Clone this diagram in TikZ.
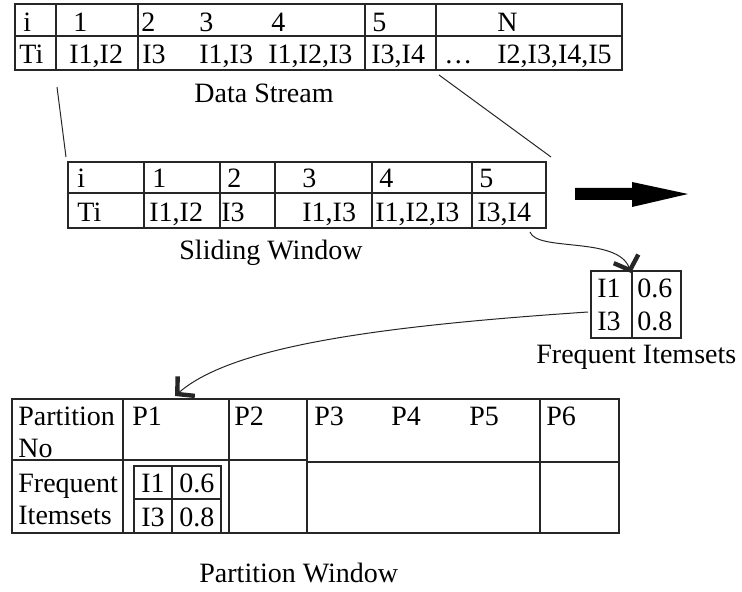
\documentclass[tikz,border=0pt]{standalone}
\usepackage{fontspec}
\setmainfont{Liberation Serif}
\usetikzlibrary{arrows.meta,fit}
\begin{document}
\begin{tikzpicture}[x=0.5pt,y=-0.5pt,
  gridline/.style={draw=black!85, line width=0.7pt},
  tblbox/.style={draw=black!85, line width=0.7pt, inner sep=0pt},
  txt/.style={anchor=base west, inner sep=0pt, font=\fontsize{14}{16}\selectfont},
  link/.style={draw=black!85, line width=0.5pt},
  barb/.style={-{Straight Barb[length=6pt,width=13pt,line width=2.2pt]}}]
\useasboundingbox (0,0) rectangle (742,592);

% ---------- Data Stream ----------
\coordinate (ds-nw) at (15,4);
\coordinate (ds-se) at (622,70);
\node[tblbox, fit=(ds-nw)(ds-se)] (ds) {};
\draw[gridline] (15,36) -- (622,36);
\foreach \x in {56,138,365,436} \draw[gridline] (\x,4) -- (\x,70);
\node[txt] (ds-h0) at (23,32) {i};
\node[txt] (ds-h1) at (73,32) {1};
\node[txt] (ds-h2) at (141,32) {2};
\node[txt] (ds-h3) at (199,32) {3};
\node[txt] (ds-h4) at (271,32) {4};
\node[txt] (ds-h5) at (372,32) {5};
\node[txt] (ds-hN) at (497,32) {N};
\node[txt] (ds-r0) at (19,64) {Ti};
\node[txt] (ds-r1) at (69,64) {I1,I2};
\node[txt] (ds-r2) at (142,64) {I3};
\node[txt] (ds-r3) at (199,64) {I1,I3};
\node[txt] (ds-r4) at (268,64) {I1,I2,I3};
\node[txt] (ds-r5) at (371,64) {I3,I4};
\node[txt] (ds-r6) at (444,64) {\dots};
\node[txt] (ds-rN) at (497,64) {I2,I3,I4,I5};
\node[txt] (ds-lbl) at (194,103) {Data Stream};

% ---------- zoom lines ----------
\coordinate (zl-a) at (57,87);
\coordinate (zl-b) at (66,157);
\coordinate (zr-a) at (439,75);
\coordinate (zr-b) at (551,157);
\draw[link] (zl-a) -- (zl-b);
\draw[link] (zr-a) -- (zr-b);

% ---------- Sliding Window ----------
\coordinate (sw-nw) at (68,162);
\coordinate (sw-se) at (546,228);
\node[tblbox, fit=(sw-nw)(sw-se)] (sw) {};
\draw[gridline] (68,193) -- (546,193);
\foreach \x in {144,220,275,372,472} \draw[gridline] (\x,162) -- (\x,228);
\node[txt] (sw-h0) at (77,188) {i};
\node[txt] (sw-h1) at (152,188) {1};
\node[txt] (sw-h2) at (227,188) {2};
\node[txt] (sw-h3) at (302,188) {3};
\node[txt] (sw-h4) at (379,188) {4};
\node[txt] (sw-h5) at (479,188) {5};
\node[txt] (sw-r0) at (77,222) {Ti};
\node[txt] (sw-r1) at (149,222) {I1,I2};
\node[txt] (sw-r2) at (221,222) {I3};
\node[txt] (sw-r3) at (302,222) {I1,I3};
\node[txt] (sw-r4) at (375,222) {I1,I2,I3};
\node[txt] (sw-r5) at (477,222) {I3,I4};
\node[txt] (sw-lbl) at (179,260) {Sliding Window};

% ---------- big arrow ----------
\fill[black] (575,188) -- (632,188) -- (632,182) -- (688,194) -- (632,207) -- (632,200) -- (575,200) -- cycle;

% ---------- Frequent Itemsets ----------
\coordinate (fi-nw) at (591,271);
\coordinate (fi-se) at (681,338);
\node[tblbox, fit=(fi-nw)(fi-se)] (fi) {};
\draw[gridline] (632,271) -- (632,338);
\node[txt] (fi-a1) at (597,298) {I1};
\node[txt] (fi-b1) at (637,298) {0.6};
\node[txt] (fi-a2) at (597,330) {I3};
\node[txt] (fi-b2) at (637,330) {0.8};
\node[txt] (fi-lbl) at (536,364) {Frequent Itemsets};

% ---------- curved arrows ----------
\coordinate (sw-out) at (530,232);
\coordinate (fi-in) at (631,273);
\draw[link, barb] (sw-out) .. controls (537,252) and (618,236) .. (fi-in);
\coordinate (fi-out) at (588,312);
\coordinate (pw-in) at (175,396);
\draw[link, barb] (fi-out) .. controls (380,326) and (232,346) .. (pw-in);

% ---------- Partition Window ----------
\coordinate (pw-nw) at (12,399);
\coordinate (pw-se) at (619,533);
\node[tblbox, fit=(pw-nw)(pw-se)] (pw) {};
\draw[gridline] (12,460) -- (307,460);
\draw[gridline] (307,462) -- (619,462);
\foreach \x in {123,229,307,540} \draw[gridline] (\x,399) -- (\x,533);
\node[txt] (pw-h0a) at (18,425) {Partition};
\node[txt] (pw-h0b) at (18,457) {No};
\node[txt] (pw-p1) at (132,425) {P1};
\node[txt] (pw-p2) at (234,425) {P2};
\node[txt] (pw-p3) at (314,425) {P3};
\node[txt] (pw-p4) at (391,425) {P4};
\node[txt] (pw-p5) at (469,425) {P5};
\node[txt] (pw-p6) at (546,425) {P6};
\node[txt] (pw-r0a) at (18,492) {Frequent};
\node[txt] (pw-r0b) at (18,524) {Itemsets};
% inner table
\coordinate (in-nw) at (134,466);
\coordinate (in-se) at (221,533);
\node[tblbox, fit=(in-nw)(in-se)] (inner) {};
\draw[gridline] (134,499) -- (222,499);
\draw[gridline] (172,466) -- (172,533);
\node[txt] (in-a1) at (141,492) {I1};
\node[txt] (in-b1) at (179,492) {0.6};
\node[txt] (in-a2) at (141,526) {I3};
\node[txt] (in-b2) at (179,526) {0.8};
\node[txt] (pw-lbl) at (199,582) {Partition Window};
\end{tikzpicture}
\end{document}
